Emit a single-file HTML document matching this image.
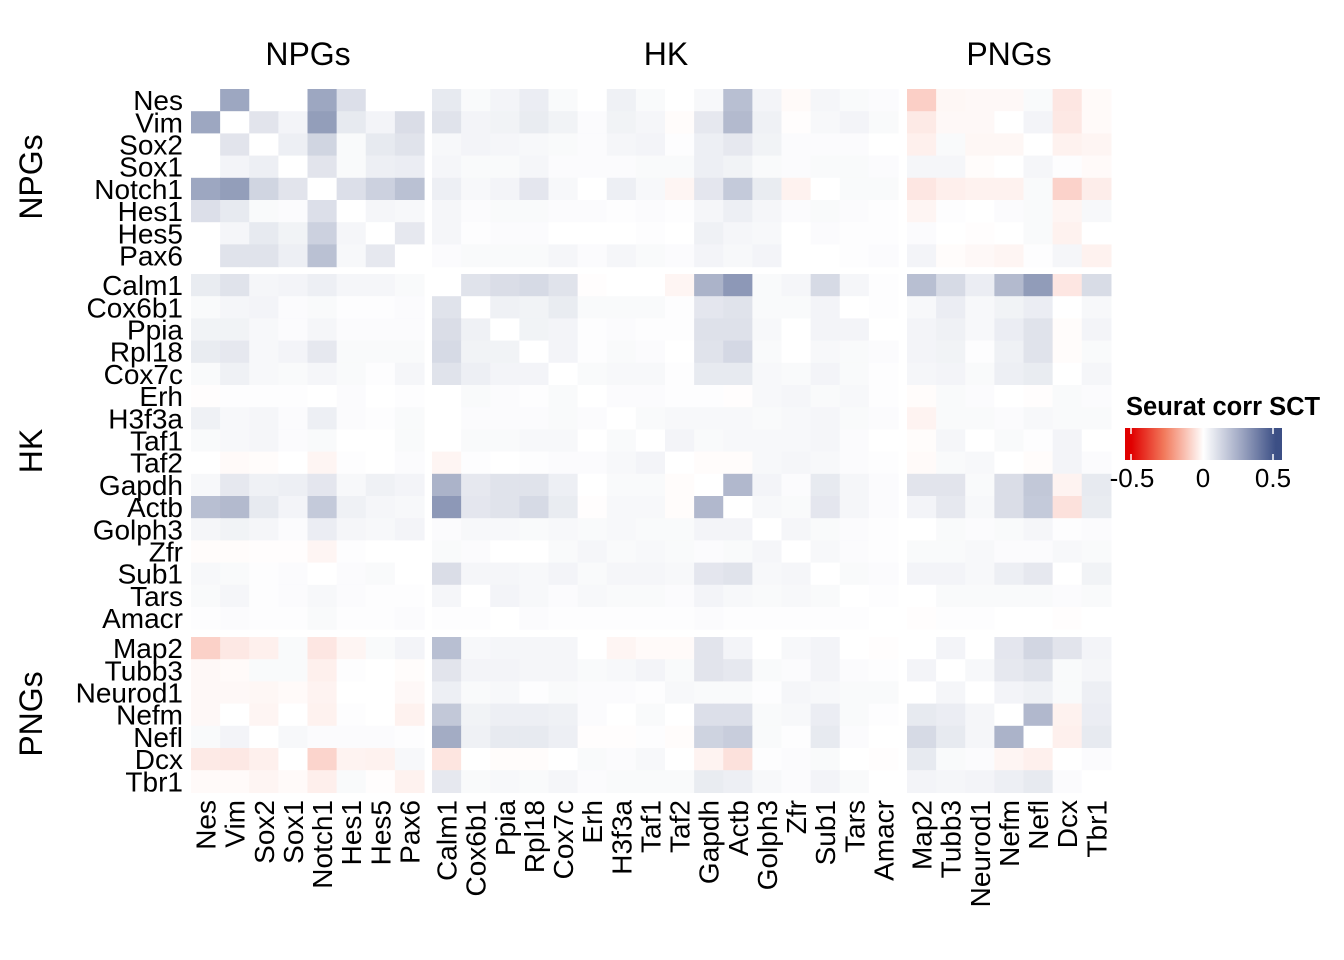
<!DOCTYPE html>
<html><head><meta charset="utf-8"><style>
html,body{margin:0;padding:0;background:#fff;}
svg{display:block;font-family:"Liberation Sans",sans-serif;}
</style></head><body>
<svg id="s" width="1344" height="960" xmlns="http://www.w3.org/2000/svg">
<defs><linearGradient id="lg" x1="0" x2="1" y1="0" y2="0">
<stop offset="0" stop-color="#e00000"/><stop offset="0.04" stop-color="#e00000"/>
<stop offset="0.25" stop-color="#f27a5c"/><stop offset="0.5" stop-color="#ffffff"/>
<stop offset="0.75" stop-color="#9aa3c0"/><stop offset="0.96" stop-color="#3c4f85"/><stop offset="1" stop-color="#3c4f85"/>
</linearGradient></defs>
<g id="cells"></g>
<g font-size="32" text-anchor="middle">
<text x="308" y="65">NPGs</text><text x="666" y="65">HK</text><text x="1009" y="65">PNGs</text>
<text transform="translate(42,177) rotate(-90)">NPGs</text>
<text transform="translate(42,451) rotate(-90)">HK</text>
<text transform="translate(42,714) rotate(-90)">PNGs</text>
</g>
<g id="labs" font-size="28"></g>
<text x="1126" y="415" font-size="25.5" font-weight="bold">Seurat corr SCT</text>
<rect x="1125" y="428" width="157" height="32" fill="url(#lg)"/>
<line x1="1131" y1="428" x2="1131" y2="434" stroke="#fff" stroke-width="1.5"/>
<line x1="1131" y1="454" x2="1131" y2="460" stroke="#fff" stroke-width="1.5"/>
<line x1="1273" y1="428" x2="1273" y2="434" stroke="#fff" stroke-width="1.5"/>
<line x1="1273" y1="454" x2="1273" y2="460" stroke="#fff" stroke-width="1.5"/>
<g font-size="26" text-anchor="middle">
<text x="1132" y="487">-0.5</text><text x="1203" y="487">0</text><text x="1273" y="487">0.5</text>
</g>
</svg>
<script>
var genes=["Nes","Vim","Sox2","Sox1","Notch1","Hes1","Hes5","Pax6","Calm1","Cox6b1","Ppia","Rpl18","Cox7c","Erh","H3f3a","Taf1","Taf2","Gapdh","Actb","Golph3","Zfr","Sub1","Tars","Amacr","Map2","Tubb3","Neurod1","Nefm","Nefl","Dcx","Tbr1"];
var M=[
[0,5,0,0,5,1.8,0,0, 1.2,.3,.6,1,.3,0,.8,.3,0,.4,3.6,.6,-.3,.5,.3,.2, -2.9,-.5,-.4,-.4,.3,-1.5,-.3],
[5,0,1.5,.6,5.5,1.2,.6,1.9, 1.6,.6,.7,1.1,.7,.2,.7,.5,-.2,1.3,3.9,.8,-.1,.4,.6,.3, -1.3,-.4,-.4,0,.6,-1.4,-.3],
[0,1.5,0,.9,2.4,.3,1.2,1.6, .4,.6,.5,.4,.3,.2,.5,.6,.1,.9,1.3,.7,.2,.2,.2,0, -.9,.3,-.5,-.5,0,-.8,-.6],
[0,.6,.9,0,1.5,.3,.9,1, .5,.3,.3,.5,.2,.2,.2,.3,.3,.9,.7,.3,.2,.3,.3,.2, .5,.5,-.2,0,.5,.1,-.3],
[5,5.5,2.4,1.5,0,1.8,2.6,3.5, .9,.4,.6,1.4,.4,0,.9,.4,-.6,1.4,3,1.1,-.8,0,.3,.3, -1.5,-1,-.8,-.8,.3,-2.7,-1.1],
[1.8,1.2,.3,.2,1.8,0,.5,.4, .5,.2,.3,.3,.2,.2,.1,.2,.1,.5,.9,.5,.2,.3,.2,.1, -.6,.1,0,.2,.3,-.6,.4],
[0,.5,1.2,.7,2.6,.5,0,1.3, .5,.1,.2,.2,0,0,0,.1,0,.8,.5,.4,0,.2,.1,.1, .2,0,-.1,0,.3,-.8,0],
[0,1.6,1.6,.9,3.5,.4,1.3,0, .2,.3,.3,.3,.5,.2,.5,.3,.2,.6,.4,.6,0,0,.1,.2, .6,-.2,-.4,-.6,.1,.5,-.8],
[1.1,1.6,.5,.6,.9,.5,.5,.3, 0,1.6,1.9,2.1,1.6,-.1,0,0,-.6,4.3,5.8,.3,.5,2.1,.5,.1, 3.6,2.1,1,3.9,5.6,-1.5,2],
[.3,.5,.6,.2,.3,.1,.1,.2, 1.6,0,.8,.7,1.1,.3,.3,.3,.1,1.4,1.6,.3,.3,.6,0,.1, .4,1,.4,.7,1,0,.4],
[.7,.7,.4,.2,.5,.2,.2,.2, 1.9,.8,0,.7,.6,.1,.2,.1,.1,1.7,1.7,.4,0,.6,.6,0, .6,.8,.4,1,1.6,-.2,.6],
[1.1,1.3,.4,.6,1.3,.3,.3,.3, 2.1,.7,.7,0,.6,.1,.3,.2,0,1.6,2.2,.3,0,.4,.3,.2, .6,.7,.1,.8,1.6,-.2,.3],
[.3,.8,.4,.3,.5,.3,.1,.5, 1.6,.9,.6,.6,0,.3,.4,.4,.1,1.2,1.2,.4,.3,.6,.3,.1, .5,.6,.3,.9,1.1,0,.5],
[-.1,.1,.1,.1,0,.2,0,.1, 0,.3,.2,.1,.3,0,.2,.2,.1,.1,-.1,.4,.5,.3,.4,.1, -.2,.3,.2,0,-.1,.3,.2],
[.8,.4,.5,.2,.9,.2,.1,.3, 0,.2,.2,.2,.3,.2,0,.3,.4,.4,.4,.3,.4,.5,.3,.2, -.7,.3,.3,.2,.4,.3,.3],
[.3,.4,.5,.2,.3,0,0,.3, 0,.3,.3,.4,.4,0,.3,0,.6,.3,.4,.4,.4,.5,.2,0, -.2,.5,0,.3,.1,.6,0],
[0,-.3,-.2,0,-.6,.1,0,.2, -.6,.1,0,.1,.2,.2,.4,.6,0,-.2,-.2,.4,.5,.4,.2,.1, -.3,.3,.4,0,-.2,.6,.2],
[.4,1.3,.8,.9,1.4,.4,.8,.6, 4.3,1.3,1.6,1.6,.9,0,.3,.3,-.2,0,4,.6,.2,1.2,.5,.2, 1.5,1.5,.3,1.9,3.1,-.7,1.2],
[3.6,3.9,1.2,.6,3,.8,.5,.4, 5.8,1.4,1.6,2.1,1.1,-.1,.4,.4,-.2,4,0,.4,.3,1.4,.5,.2, .6,1.3,.4,1.9,3,-1.8,1.1],
[.5,.7,.5,.2,1,.5,.4,.6, .2,.4,.4,.3,.4,.3,.4,.3,.3,.6,.6,0,.5,.3,.2,.1, 0,.3,.2,.3,.5,.1,.2],
[-.2,-.2,-.1,-.1,-.6,.1,0,0, .3,.2,0,0,.3,.5,.3,.4,.3,.2,.3,.5,0,.4,.2,.1, .3,.3,.4,.2,.2,.4,.3],
[.4,.3,.1,.2,0,.2,.3,0, 1.9,.5,.5,.4,.6,.3,.5,.5,.4,1.4,1.6,.4,.5,0,.3,.2, .6,.6,.4,.9,1.3,0,.7],
[.3,.5,.1,.2,.4,.2,.1,.1, .5,0,.6,.4,.2,.4,.3,.3,.2,.6,.4,.3,.4,.3,0,.1, 0,.3,.3,.3,.3,.2,.3],
[.1,.2,.1,.1,.3,.1,.1,.2, .1,.1,0,.2,.1,.1,.1,.1,.1,.2,.1,.1,.1,.1,.1,0, -.1,.1,.1,0,0,-.1,0],
[-2.8,-1.4,-.9,.3,-1.5,-.6,.3,.6, 3.6,.4,.5,.5,.5,0,-.6,-.3,-.3,1.5,.6,0,.4,.6,0,-.1, 0,.6,0,1.4,2.3,1.5,.6],
[-.4,-.3,.3,.3,-.9,.1,0,-.2, 1.5,.6,.6,.5,.5,.3,.4,.6,.3,1.5,1.3,.3,.2,.6,.2,.1, .6,0,.4,1.3,1.6,.3,.5],
[-.4,-.4,-.5,-.3,-.7,0,0,-.4, .9,.3,.4,.1,.3,.2,.2,.1,.4,.3,.3,.1,.5,.4,.3,.3, 0,.5,0,.6,.8,.3,.9],
[-.4,0,-.6,0,-.8,.1,0,-.8, 3.1,.7,.9,.9,.8,.2,0,.3,0,1.8,1.8,.3,.4,1,.3,.1, 1.2,1,.5,0,4,-.8,1],
[.3,.6,0,.4,.2,.2,.2,.1, 4.7,.8,1.2,1.2,.9,-.1,-.1,.1,-.2,2.5,2.8,.3,.1,1.2,.2,0, 2.1,1.2,.5,4.3,0,-.9,1.2],
[-1.3,-1.4,-.9,0,-2.6,-.7,-.8,.4, -1.6,0,-.2,-.2,0,.3,.2,.4,0,-.7,-1.8,.1,.2,.3,0,-.1, 1.2,.3,.2,-.6,-.9,0,.2],
[-.3,-.3,-.6,-.3,-1,.3,-.1,-.8, 1.3,.3,.4,.3,.5,.2,.3,.3,.3,1.1,.9,.4,.2,.6,.3,0, .6,.5,.6,.9,1.2,.2,0]
];
function col(i){var b=i<8?0:(i<24?1:2);return b;}
var xs=[191,432,907], ys=[89,274,637], cw=29.125, ch=22.2;
function X(i){var b=col(i),o=i<8?i:(i<24?i-8:i-24);return xs[b]+o*cw;}
function Y(i){var b=col(i),o=i<8?i:(i<24?i-8:i-24);return ys[b]+o*ch;}
function color(n){var s=Math.max(-1,Math.min(1,n/10));var r,g,bl;
 if(s>=0){r=255-196*s;g=255-177*s;bl=255-125*s;}else{s=-s;r=255-15*s;g=255-165*s;bl=255-195*s;}
 return "rgb("+Math.round(r)+","+Math.round(g)+","+Math.round(bl)+")";}
var h="";
for(var i=0;i<31;i++)for(var j=0;j<31;j++){
 h+='<rect x="'+X(j).toFixed(2)+'" y="'+Y(i).toFixed(2)+'" width="'+(cw+0.6)+'" height="'+(ch+0.6)+'" fill="'+color(M[i][j])+'"/>';}
document.getElementById("cells").innerHTML=h;
var l="";
for(var i=0;i<31;i++){
 l+='<text x="183" y="'+(Y(i)+ch/2+10).toFixed(1)+'" text-anchor="end">'+genes[i]+'</text>';
 l+='<text transform="translate('+(X(i)+cw/2+10).toFixed(1)+',800) rotate(-90)" text-anchor="end">'+genes[i]+'</text>';
}
document.getElementById("labs").innerHTML=l;
</script>
</body></html>
